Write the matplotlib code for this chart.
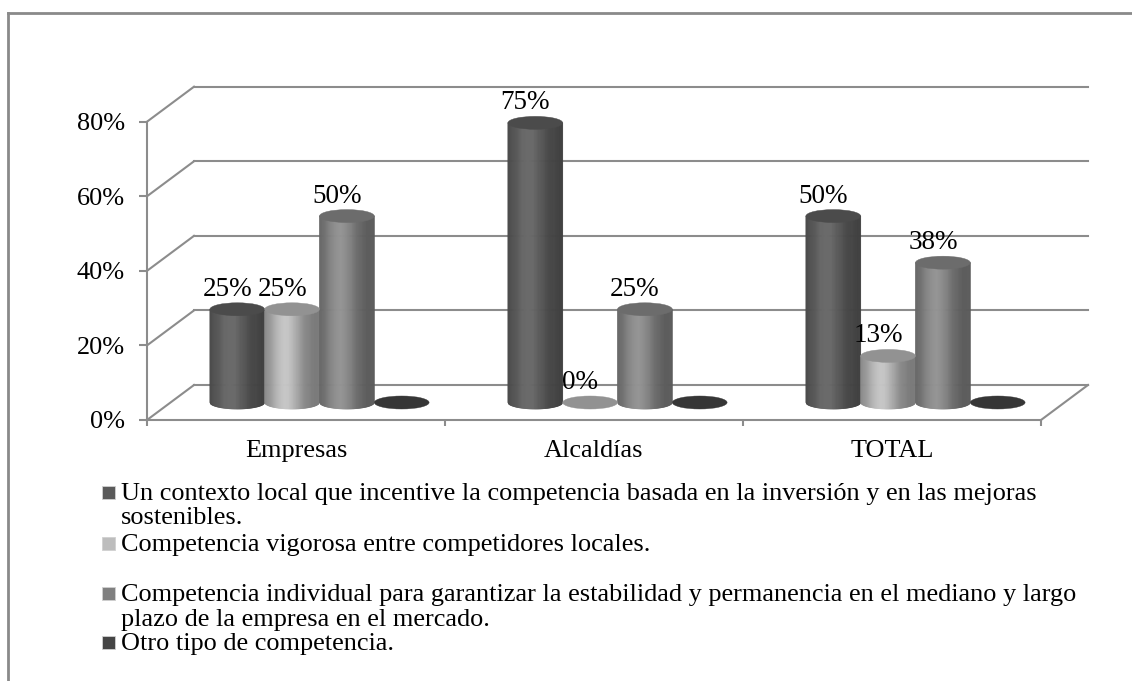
import numpy as np
import matplotlib
matplotlib.use("Agg")
import matplotlib.pyplot as plt
from matplotlib.patches import Ellipse, Rectangle
from matplotlib.collections import PolyCollection
from matplotlib.lines import Line2D
from matplotlib.transforms import IdentityTransform

# ---------------- data ----------------
categories = ["Empresas", "Alcaldías", "TOTAL"]
series_names = [
    "Un contexto local que incentive la competencia basada en la inversión y en las mejoras\nsostenibles.",
    "Competencia vigorosa entre competidores locales.",
    "Competencia individual para garantizar la estabilidad y permanencia en el mediano y largo\nplazo de la empresa en el mercado.",
    "Otro tipo de competencia.",
]
s1_values = [0.25, 0.75, 0.50]
s2_values = [0.25, 0.00, 0.125]
s3_values = [0.50, 0.25, 0.375]
s4_values = [0.00, 0.00, 0.00]
series_values = [s1_values, s2_values, s3_values, s4_values]
show_labels = [True, True, True, False]
y_ticks = [0.0, 0.2, 0.4, 0.6, 0.8]
y_tick_labels = ["0%", "20%", "40%", "60%", "80%"]

# ---------------- style ----------------
body_levels = [92, 172, 128, 62]          # base grey for cylinder bodies
top_colors = ["#4b4b4b", "#929292", "#6c6c6c", "#363636"]
legend_colors = ["#5a5a5a", "#bdbdbd", "#808080", "#454545"]
grid_color = "#8c8c8c"
FONT = "Liberation Serif"
FS_LAB = 19.5
FS_TXT = 18.9

W, H = 1132, 681
fig = plt.figure(figsize=(W / 100, H / 100), dpi=100)
ax = fig.add_axes([147 / W, 1 - 420 / H, (1041 - 147) / W, (420 - 121.7) / H])
ax.set_xlim(0, 3)
ax.set_ylim(0, 0.8)
ax.patch.set_visible(False)

px_x = (1041 - 147) / 3.0          # pixels per category unit
px_y = (420 - 121.7) / 0.8         # pixels per value unit
DX = 47 / px_x                     # depth offset in data units
DY = 35 / px_y

# axes spines / ticks (front edges)
for s in ["top", "right"]:
    ax.spines[s].set_visible(False)
for s in ["left", "bottom"]:
    ax.spines[s].set_color(grid_color)
    ax.spines[s].set_linewidth(1.5)
ax.set_yticks(y_ticks)
ax.set_yticklabels(y_tick_labels, fontfamily=FONT, fontsize=FS_TXT)
ax.tick_params(axis="y", direction="out", length=5.8, width=1.5, color=grid_color, pad=10)
ax.set_xticks([0, 1, 2, 3])
ax.set_xticklabels([])
ax.tick_params(axis="x", which="major", direction="out", length=4.5, width=1.5, color=grid_color)
ax.set_xticks([0.5, 1.5, 2.5], minor=True)
ax.set_xticklabels(categories, minor=True, fontfamily=FONT, fontsize=FS_TXT)
ax.tick_params(axis="x", which="minor", length=0, pad=14.5)

# back wall gridlines + side diagonals
for y in y_ticks:
    ax.add_line(Line2D([0, DX], [y, y + DY], color=grid_color, lw=1.5, clip_on=False, zorder=1))
    ax.add_line(Line2D([DX, 3 + DX], [y + DY, y + DY], color=grid_color, lw=1.5, clip_on=False, zorder=1))
ax.add_line(Line2D([3, 3 + DX], [0, DY], color=grid_color, lw=1.5, clip_on=False, zorder=1))

# cylinders
bw = 54.8 / px_x
eh = 13.0 / px_y
b = eh / 2
nser = len(series_values)
N = 60
us = np.linspace(-1, 1, N + 1)


def shade(level, t):
    m = 0.70 + 0.45 * np.exp(-((t - 0.38) / 0.30) ** 2)
    g = np.clip(level * m, 0, 255) / 255.0
    return (g, g, g)


for j, vals in enumerate(series_values):
    for i, v in enumerate(vals):
        cx = i + 0.5 + (j - (nser - 1) / 2) * bw + DX / 2
        y0 = DY / 2
        if v > 0:
            polys, cols = [], []
            for k in range(N):
                u0, u1 = us[k], us[k + 1]
                x0, x1 = cx + u0 * bw / 2, cx + u1 * bw / 2
                polys.append([
                    (x0, y0 - b * np.sqrt(max(0, 1 - u0 ** 2))),
                    (x1, y0 - b * np.sqrt(max(0, 1 - u1 ** 2))),
                    (x1, y0 + v),
                    (x0, y0 + v),
                ])
                cols.append(shade(body_levels[j], (k + 0.5) / N))
            pc = PolyCollection(polys, facecolors=cols, edgecolors=cols, linewidths=0.5,
                                clip_on=False, zorder=3)
            ax.add_collection(pc)
        ax.add_patch(Ellipse((cx, y0 + v), bw, eh, facecolor=top_colors[j],
                             edgecolor=top_colors[j], lw=0.3, clip_on=False, zorder=4))
        if show_labels[j]:
            lab = f"{int(v * 100 + 0.5)}%"
            ax.annotate(lab, (cx, y0 + v), xytext=(-10, 20), textcoords="offset pixels",
                        ha="center", va="center", fontfamily=FONT, fontsize=FS_LAB,
                        zorder=6, annotation_clip=False)

# legend (manual, matching the Excel layout)
legend_baselines = [[500, 524], [551], [601, 626], [650]]
for j, name in enumerate(series_names):
    lines = name.split("\n")
    base0 = legend_baselines[j][0]
    fig.add_artist(Rectangle((102, H - base0 + 1), 13, 13, transform=IdentityTransform(),
                             facecolor=legend_colors[j], edgecolor="#d0d0d0", lw=0.6))
    for line, bl in zip(lines, legend_baselines[j]):
        fig.text(121 / W, 1 - bl / H, line, ha="left", va="baseline",
                 fontfamily=FONT, fontsize=FS_TXT)

# outer frame
fig.add_artist(Line2D([8 / W, 1.01], [1 - 13 / H, 1 - 13 / H], transform=fig.transFigure,
                      color="#8a8a8a", lw=2))
fig.add_artist(Line2D([8 / W, 8 / W], [1 - 13 / H, -0.01], transform=fig.transFigure,
                      color="#8a8a8a", lw=2))

fig.savefig("out.png", dpi=100)
